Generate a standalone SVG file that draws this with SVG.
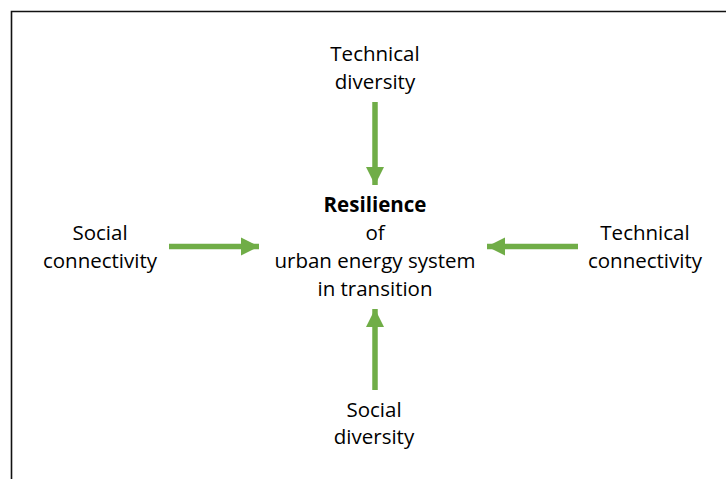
<svg xmlns="http://www.w3.org/2000/svg" width="726" height="479" viewBox="0 0 726 479">
  <style>
    .lbl { font-family: "Open Sans", "Liberation Sans", sans-serif; font-size: 20.5px; fill: #000; text-anchor: middle; }
    .bold { font-weight: bold; }
    .shaft { stroke: #70AD47; stroke-width: 5.5; fill: none; }
    .frame { stroke: #111; stroke-width: 1.6; fill: none; }
  </style>
  <defs>
    <marker id="head" viewBox="0 0 10 10" refX="10" refY="5" markerWidth="3.3" markerHeight="3.5" markerUnits="strokeWidth" orient="auto">
      <path d="M0,0 L10,5 L0,10 Z" fill="#70AD47"/>
    </marker>
  </defs>

  <rect width="726" height="479" fill="#fff"/>
  <path class="frame" d="M11.5,479 V11.5 H726"/>

  <g id="connectors">
    <line class="shaft" x1="375" y1="102" x2="375" y2="185" marker-end="url(#head)"/>
    <line class="shaft" x1="375" y1="390" x2="375" y2="309" marker-end="url(#head)"/>
    <line class="shaft" x1="169" y1="246.5" x2="259" y2="246.5" marker-end="url(#head)"/>
    <line class="shaft" x1="578" y1="246.5" x2="487" y2="246.5" marker-end="url(#head)"/>
  </g>

  <g id="center">
    <text class="lbl bold" x="375" y="212">Resilience</text>
    <text class="lbl" x="375" y="240">of</text>
    <text class="lbl" x="375" y="268">urban energy system</text>
    <text class="lbl" x="375" y="296">in transition</text>
  </g>

  <g id="technical-diversity">
    <text class="lbl" x="375" y="61">Technical</text>
    <text class="lbl" x="375" y="89">diversity</text>
  </g>

  <g id="social-connectivity">
    <text class="lbl" x="100" y="240">Social</text>
    <text class="lbl" x="100" y="268">connectivity</text>
  </g>

  <g id="technical-connectivity">
    <text class="lbl" x="645" y="240">Technical</text>
    <text class="lbl" x="645" y="268">connectivity</text>
  </g>

  <g id="social-diversity">
    <text class="lbl" x="374" y="417">Social</text>
    <text class="lbl" x="374" y="444">diversity</text>
  </g>
</svg>
